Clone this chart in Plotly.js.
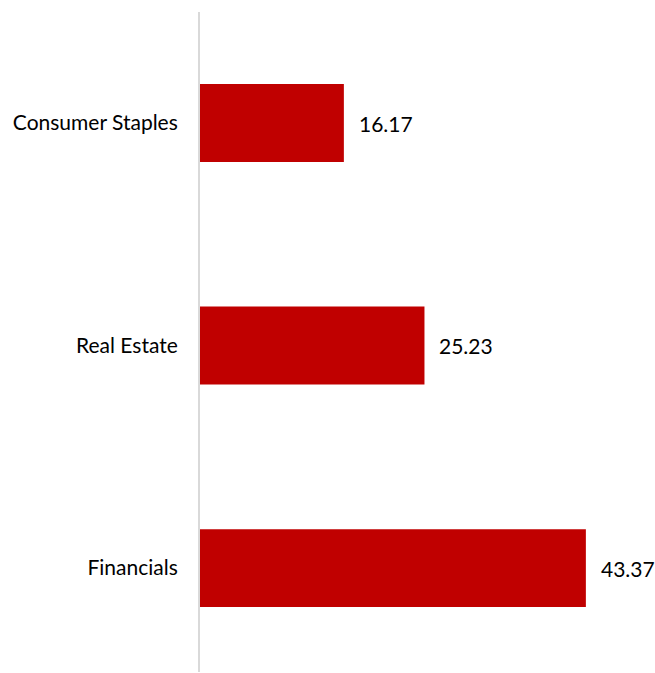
<!DOCTYPE html>
<html>
<head>
<meta charset="utf-8">
<script src="https://cdn.plot.ly/plotly-3.0.1.min.js"></script>
<style>html,body{margin:0;padding:0;background:#fff;}#chart{width:655px;height:673px;}</style>
</head>
<body>
<div id="chart"></div>
<script>
const categories = ['Financials', 'Real Estate', 'Consumer Staples'];
const values = [43.37, 25.23, 16.17];
const valueLabels = ['43.37', '25.23', '16.17'];

const FONT = 'Lato, "Open Sans", sans-serif';

const trace = {
  type: 'bar',
  orientation: 'h',
  x: values,
  y: categories,
  width: 0.35,
  marker: {color: '#C00000'},
  hoverinfo: 'none'
};

const annotations = categories.map((c, i) => ({
  x: values[i], y: c, xref: 'x', yref: 'y',
  text: valueLabels[i], showarrow: false,
  xanchor: 'left', xshift: 13,
  font: {family: FONT, size: 21, color: '#000'}
}));

const layout = {
  width: 655, height: 673,
  margin: {l: 200, r: 0, t: 12, b: 1},
  paper_bgcolor: '#fff', plot_bgcolor: '#fff',
  showlegend: false,
  xaxis: {range: [0, 51.14], visible: false, fixedrange: true},
  yaxis: {
    type: 'category',
    range: [-0.467, 2.499],
    showline: true, linecolor: '#d9d9d9', linewidth: 2,
    showgrid: false, zeroline: false, ticks: '',
    ticklabelstandoff: 16,
    tickfont: {family: FONT, size: 21, color: '#000'}
  },
  annotations: annotations
};

Plotly.newPlot('chart', [trace], layout, {displayModeBar: false, staticPlot: true});
</script>
</body>
</html>
